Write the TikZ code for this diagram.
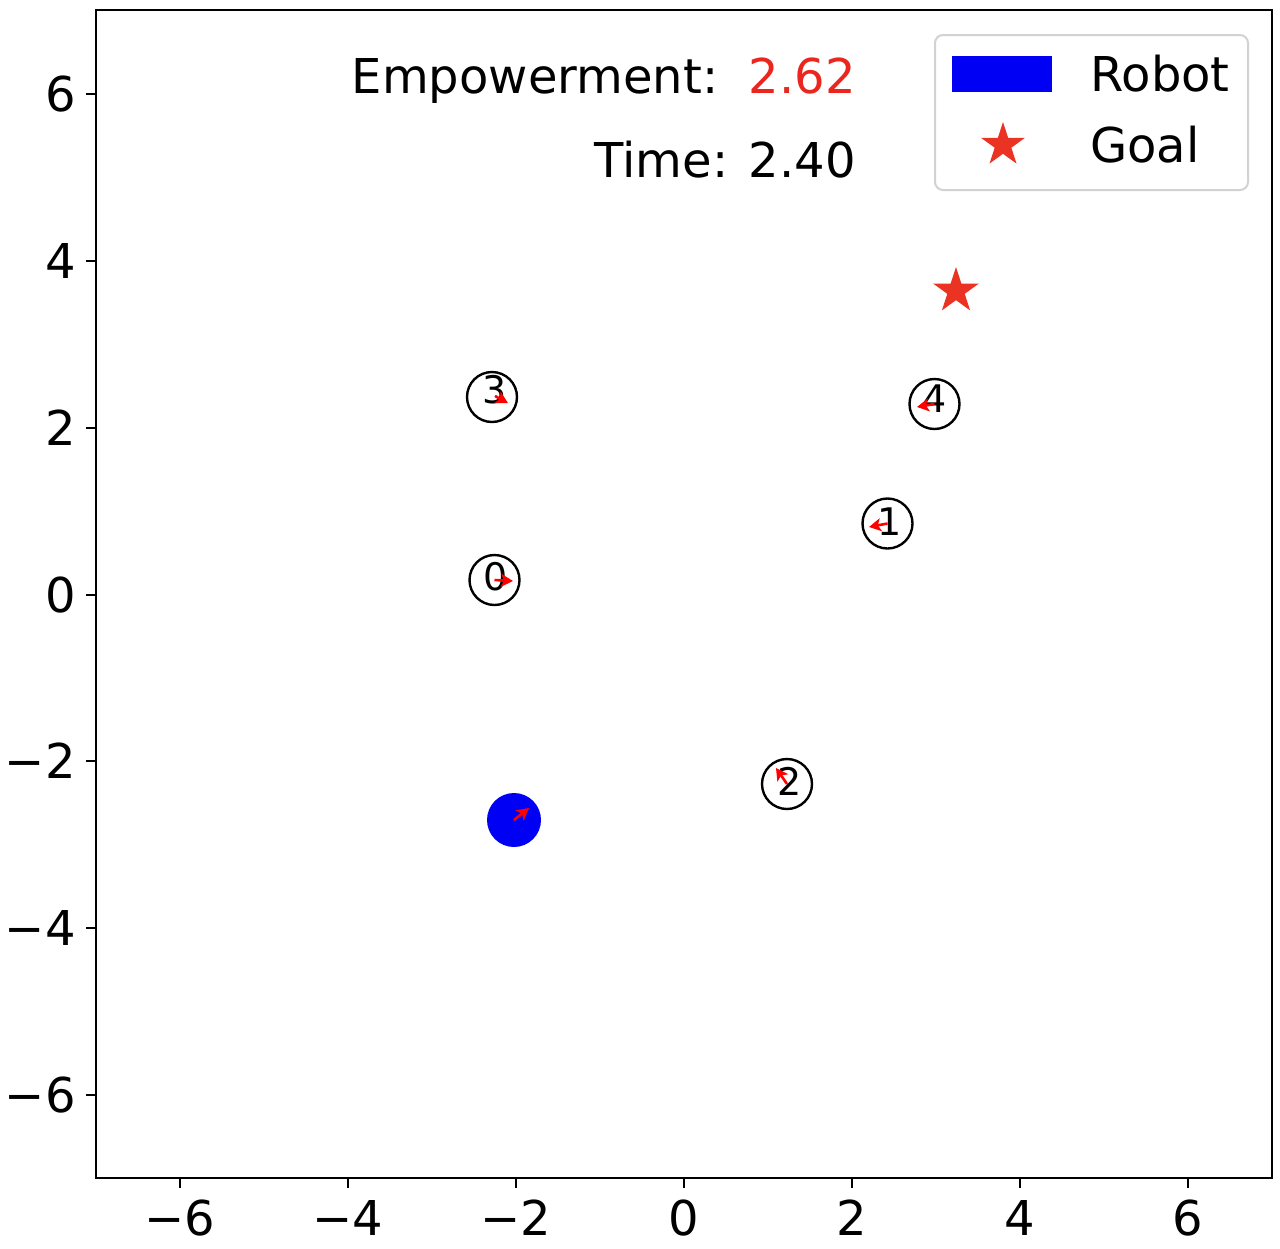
\documentclass[tikz,border=0pt]{standalone}
\usepackage{fontspec}
\setmainfont{DejaVu Sans}
\usetikzlibrary{shapes.geometric,arrows.meta}
\definecolor{starred}{RGB}{234,51,35}
\definecolor{txtred}{RGB}{235,38,30}
\definecolor{robotblue}{RGB}{0,0,245}
\definecolor{legframe}{RGB}{210,210,210}
\begin{document}
\begin{tikzpicture}[x=0.5pt,y=-0.5pt,
  obst/.style={circle,draw=black,line width=1.2pt,minimum size=25pt,inner sep=0pt},
  robot/.style={circle,fill=robotblue,minimum size=27pt,inner sep=0pt},
  lbl/.style={font=\fontsize{19}{20}\selectfont,inner sep=0pt},
  vel/.style={red,line width=1.3pt,-{Stealth[length=6pt,width=6.5pt,inset=1.5pt]}},
  goalstar/.style={star,star points=5,star point ratio=2.618,fill=starred,minimum size=24pt,inner sep=0pt},
  tickmark/.style={line width=1pt},
  big/.style={font=\fontsize{24}{28}\selectfont,inner sep=0pt},
]
\useasboundingbox (0,0) rectangle (1280,1248);
\fill[white] (0,0) rectangle (1280,1248);

% axes frame
\draw[line width=1.25pt] (96,10) rectangle (1272,1178);

% ticks
\foreach \v in {-6,-4,-2,0,2,4,6}{
  \pgfmathsetmacro{\px}{684+84*\v}
  \pgfmathsetmacro{\py}{594.5-83.4*\v}
  \coordinate (xa\v) at (\px,1178);
  \coordinate (xb\v) at (\px,1188);
  \draw[tickmark] (xa\v) -- (xb\v);
  \coordinate (ya\v) at (96,\py);
  \coordinate (yb\v) at (86,\py);
  \draw[tickmark] (ya\v) -- (yb\v);
  \ifnum\v<0
    \node[big,anchor=base] (xl\v) at (\px,1235) {−\the\numexpr-\v\relax};
    \node[big,anchor=base east] (yl\v) at (76,\py+17.5) {−\the\numexpr-\v\relax};
  \else
    \node[big,anchor=base] (xl\v) at (\px,1235) {\v};
    \node[big,anchor=base east] (yl\v) at (76,\py+17.5) {\v};
  \fi
}

% obstacles
\node[obst] (o0) at (494.5,580) {};
\node[obst] (o1) at (887.5,523.5) {};
\node[obst] (o2) at (787,784) {};
\node[obst] (o3) at (492,397) {};
\node[obst] (o4) at (934.5,404) {};
\node[lbl] (t0) at (496,577) {0};
\node[lbl] (t1) at (890,521.5) {1};
\node[lbl] (t2) at (790,781) {2};
\node[lbl] (t3) at (495,390) {3};
\node[lbl] (t4) at (935,399) {4};

% robot
\node[robot] (rob) at (514,820) {};

% goal
\node[goalstar] (goal) at (956,291) {};

% velocity arrows
\coordinate (v0) at (513,581);
\coordinate (v1) at (869,527);
\coordinate (v2) at (776,768);
\coordinate (v3) at (508,403);
\coordinate (v4) at (917,407);
\coordinate (vr) at (529,808);
\draw[vel] (o0.center) -- (v0);
\draw[vel] (o1.center) -- (v1);
\draw[vel] (o2.center) -- (v2);
\draw[vel] ([shift={(3,-1)}]o3.center) -- (v3);
\draw[vel] (o4.center) -- (v4);
\draw[vel] (rob.center) -- (vr);

% texts
\node[big,anchor=base east] (emp) at (856,93) {Empowerment:\ \ \textcolor{txtred}{2.62}};
\node[big,anchor=base east] (time) at (856,177) {Time: 2.40};

% legend
\draw[legframe,line width=1pt,rounded corners=4pt,fill=white] (935,35) rectangle (1248,190);
\fill[robotblue] (952,56) rectangle (1052,92);
\coordinate (legrob) at (1002,74);
\node[goalstar,minimum size=23pt] (leggoal) at (1003,145) {};
\node[big,anchor=base west] (lrob) at (1090,91) {Robot};
\node[big,anchor=base west] (lgoal) at (1090,162) {Goal};
\end{tikzpicture}
\end{document}
